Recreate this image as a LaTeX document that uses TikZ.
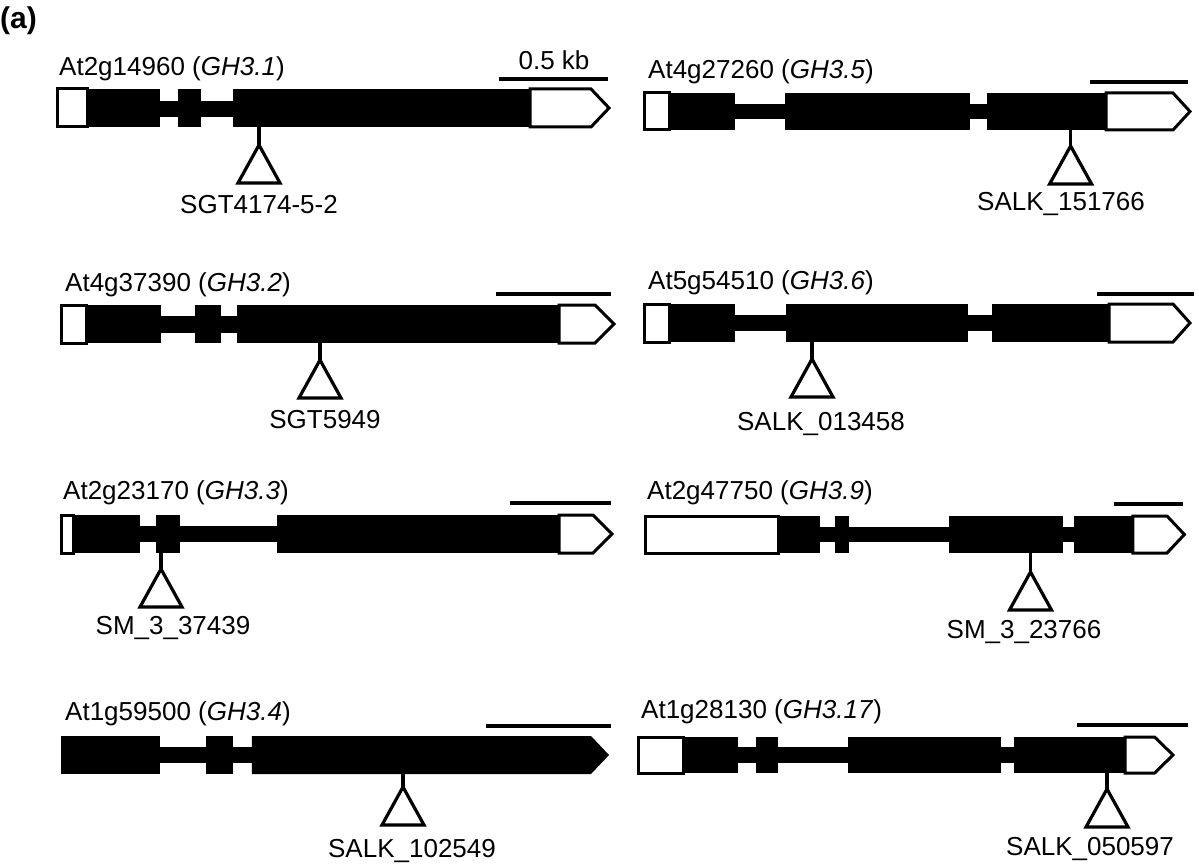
\documentclass[tikz,border=0pt]{standalone}
\usepackage{fontspec}
\setmainfont{Liberation Sans}
\begin{document}
\begin{tikzpicture}[x=1pt,y=-1pt,
  utr/.style={draw=black,line width=3pt,fill=white,line join=miter},
  exon/.style={fill=black},
  intron/.style={fill=black},
  stem/.style={draw=black,line width=3.5pt},
  ins/.style={draw=black,line width=3.2pt,fill=white,line join=miter},
  sbar/.style={draw=black,line width=4pt},
  title/.style={anchor=base west,inner sep=0pt,font=\fontsize{26}{31}\selectfont},
  lab/.style={anchor=base,inner sep=0pt,font=\fontsize{26}{31}\selectfont}]
\useasboundingbox (0,0) rectangle (1199,864);
\node[anchor=base west,inner sep=0pt,font=\fontsize{30}{36}\selectfont\bfseries] (pa) at (0,29) {(a)};

% ---------- Gene 1: GH3.1 ----------
\node[title] (t1) at (59,76) {At2g14960 (\textit{GH3.1})};
\node[lab] (kb) at (554,70) {0.5 kb};
\coordinate (b1a) at (499,79); \coordinate (b1b) at (608,79);
\draw[sbar] (b1a) -- (b1b);
\draw[utr] (57,89) rectangle (87,127);
\draw[utr] (530,89) -- (591,89) -- (609,108) -- (591,127) -- (530,127) -- cycle;
\fill[intron] (160,101) rectangle (178,117);
\fill[intron] (201,101) rectangle (232.5,117);
\fill[exon] (87,89) rectangle (160,127);
\fill[exon] (178,89) rectangle (201,127);
\fill[exon] (232.5,89) rectangle (530,127);
\coordinate (s1a) at (259,127); \coordinate (s1b) at (259,145);
\draw[stem] (s1a) -- (s1b);
\draw[ins] (s1b) -- ++(21,38) -- ++(-42,0) -- cycle;
\node[lab] (l1) at (259,213) {SGT4174-5-2};

% ---------- Gene 2: GH3.2 ----------
\node[title] (t2) at (65,291) {At4g37390 (\textit{GH3.2})};
\coordinate (b2a) at (496,294); \coordinate (b2b) at (611,294);
\draw[sbar] (b2a) -- (b2b);
\draw[utr] (61,305) rectangle (86,343);
\draw[utr] (559,305) -- (595,305) -- (614,324) -- (595,343) -- (559,343) -- cycle;
\fill[intron] (161,316) rectangle (195,333);
\fill[intron] (220.7,316) rectangle (237.3,333);
\fill[exon] (86,305) rectangle (161,343);
\fill[exon] (195,305) rectangle (220.7,343);
\fill[exon] (237.3,305) rectangle (559,343);
\coordinate (s2a) at (320,343); \coordinate (s2b) at (320,360);
\draw[stem] (s2a) -- (s2b);
\draw[ins] (s2b) -- ++(21,38) -- ++(-42,0) -- cycle;
\node[lab] (l2) at (325,428) {SGT5949};

% ---------- Gene 3: GH3.3 ----------
\node[title] (t3) at (63,499) {At2g23170 (\textit{GH3.3})};
\coordinate (b3a) at (510,503); \coordinate (b3b) at (611,503);
\draw[sbar] (b3a) -- (b3b);
\draw[utr] (61,515) rectangle (73,553);
\draw[utr] (559,515) -- (593,515) -- (612,534) -- (593,553) -- (559,553) -- cycle;
\fill[intron] (139.6,526) rectangle (156.2,542);
\fill[intron] (179.9,526) rectangle (276.8,542);
\fill[exon] (73,515) rectangle (139.6,553);
\fill[exon] (156.2,515) rectangle (179.9,553);
\fill[exon] (276.8,515) rectangle (559,553);
\coordinate (s3a) at (161,553); \coordinate (s3b) at (161,569);
\draw[stem] (s3a) -- (s3b);
\draw[ins] (s3b) -- ++(21,38) -- ++(-42,0) -- cycle;
\node[lab] (l3) at (173,634) {SM\_3\_37439};

% ---------- Gene 4: GH3.4 ----------
\node[title] (t4) at (65,720) {At1g59500 (\textit{GH3.4})};
\coordinate (b4a) at (486,726); \coordinate (b4b) at (611,726);
\draw[sbar] (b4a) -- (b4b);
\fill[intron] (160,747) rectangle (206.4,763);
\fill[intron] (232.5,747) rectangle (251.9,763);
\fill[exon] (61,736) rectangle (160,774);
\fill[exon] (206.4,736) rectangle (232.5,774);
\fill[exon] (251.9,736) -- (591,736) -- (609,755) -- (591,774) -- (251.9,774) -- cycle;
\coordinate (s4a) at (403,774); \coordinate (s4b) at (403,787);
\draw[stem] (s4a) -- (s4b);
\draw[ins] (s4b) -- ++(21,38) -- ++(-42,0) -- cycle;
\node[lab] (l4) at (412,857) {SALK\_102549};

% ---------- Gene 5: GH3.5 ----------
\node[title] (t5) at (648,79) {At4g27260 (\textit{GH3.5})};
\coordinate (b5a) at (1090,82); \coordinate (b5b) at (1188,82);
\draw[sbar] (b5a) -- (b5b);
\draw[utr] (644,93) rectangle (669,130);
\draw[utr] (1106,93) -- (1173,93) -- (1190,111.5) -- (1173,130) -- (1106,130) -- cycle;
\fill[intron] (734.8,104) rectangle (785.3,119);
\fill[intron] (969.8,104) rectangle (986.5,119);
\fill[exon] (669,93) rectangle (734.8,130);
\fill[exon] (785.3,93) rectangle (969.8,130);
\fill[exon] (986.5,93) rectangle (1106,130);
\coordinate (s5a) at (1070.6,130); \coordinate (s5b) at (1070.6,146);
\draw[stem] (s5a) -- (s5b);
\draw[ins] (s5b) -- ++(21,38) -- ++(-42,0) -- cycle;
\node[lab] (l5) at (1061,210) {SALK\_151766};

% ---------- Gene 6: GH3.6 ----------
\node[title] (t6) at (648,289) {At5g54510 (\textit{GH3.6})};
\coordinate (b6a) at (1097,294); \coordinate (b6b) at (1194,294);
\draw[sbar] (b6a) -- (b6b);
\draw[utr] (644,304) rectangle (669,342);
\draw[utr] (1109,304) -- (1173,304) -- (1190,323) -- (1173,342) -- (1109,342) -- cycle;
\fill[intron] (734.5,315) rectangle (786,331);
\fill[intron] (967.8,315) rectangle (992.3,331);
\fill[exon] (669,304) rectangle (734.5,342);
\fill[exon] (786,304) rectangle (967.8,342);
\fill[exon] (992.3,304) rectangle (1109,342);
\coordinate (s6a) at (812,342); \coordinate (s6b) at (812,359);
\draw[stem] (s6a) -- (s6b);
\draw[ins] (s6b) -- ++(21,38) -- ++(-42,0) -- cycle;
\node[lab] (l6) at (821,430) {SALK\_013458};

% ---------- Gene 7: GH3.9 ----------
\node[title] (t7) at (647,499) {At2g47750 (\textit{GH3.9})};
\coordinate (b7a) at (1114,504); \coordinate (b7b) at (1182.5,504);
\draw[sbar] (b7a) -- (b7b);
\draw[utr] (645,516) rectangle (778.4,553);
\draw[utr] (1132.8,516) -- (1167,516) -- (1184.4,534.5) -- (1167,553) -- (1132.8,553) -- cycle;
\fill[intron] (820.4,527) rectangle (834.9,542);
\fill[intron] (849.4,527) rectangle (948.7,542);
\fill[intron] (1062.9,527) rectangle (1073.6,542);
\fill[exon] (778.4,516) rectangle (820.4,553);
\fill[exon] (834.9,516) rectangle (849.4,553);
\fill[exon] (948.7,516) rectangle (1062.9,553);
\fill[exon] (1073.6,516) rectangle (1132.8,553);
\coordinate (s7a) at (1030.5,553); \coordinate (s7b) at (1030.5,572);
\draw[stem] (s7a) -- (s7b);
\draw[ins] (s7b) -- ++(21,38) -- ++(-42,0) -- cycle;
\node[lab] (l7) at (1024,638) {SM\_3\_23766};

% ---------- Gene 8: GH3.17 ----------
\node[title] (t8) at (641,718) {At1g28130 (\textit{GH3.17})};
\coordinate (b8a) at (1077,725); \coordinate (b8b) at (1188,725);
\draw[sbar] (b8a) -- (b8b);
\draw[utr] (638,737) rectangle (683.3,773);
\draw[utr] (1125.2,737) -- (1154.6,737) -- (1173,755) -- (1154.6,773) -- (1125.2,773) -- cycle;
\fill[intron] (737.5,747) rectangle (755.8,763);
\fill[intron] (777.6,747) rectangle (847.5,763);
\fill[intron] (1001.1,747) rectangle (1014.4,763);
\fill[exon] (683.3,737) rectangle (737.5,773);
\fill[exon] (755.8,737) rectangle (777.6,773);
\fill[exon] (847.5,737) rectangle (1001.1,773);
\fill[exon] (1014.4,737) rectangle (1125.2,773);
\coordinate (s8a) at (1107,773); \coordinate (s8b) at (1107,789);
\draw[stem] (s8a) -- (s8b);
\draw[ins] (s8b) -- ++(21,38) -- ++(-42,0) -- cycle;
\node[lab] (l8) at (1090,855) {SALK\_050597};
\end{tikzpicture}
\end{document}
